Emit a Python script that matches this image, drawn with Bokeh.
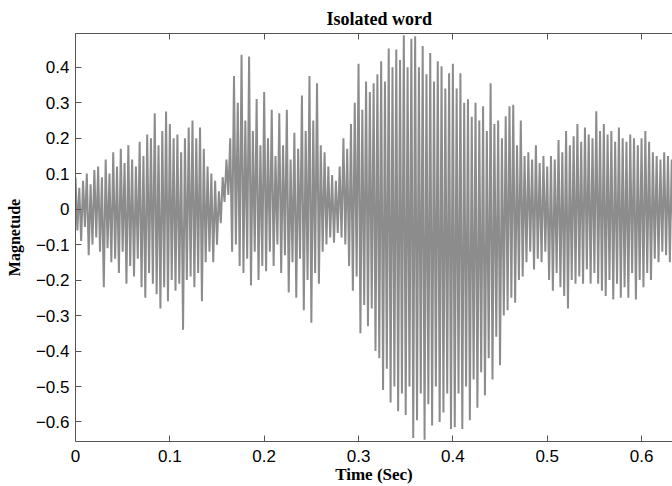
import numpy as np
from bokeh.plotting import figure
from bokeh.models import Range1d, LinearAxis, FixedTicker, CustomJSTickFormatter
from bokeh.embed import file_html
from bokeh.resources import INLINE

# ---- data (one oscillation every 4 ms: crest, then trough) ----
step = 0.004
peaks = [
    0.09, 0.06, 0.08, 0.10, 0.07, 0.11, 0.12, 0.09, 0.14, 0.10,
    0.16, 0.12, 0.17, 0.13, 0.18, 0.14, 0.12, 0.19, 0.15, 0.21,
    0.20, 0.27, 0.18, 0.22, 0.275, 0.24, 0.20, 0.21, 0.16, 0.20,
    0.23, 0.25, 0.20, 0.23, 0.17, 0.12, 0.10, 0.08, 0.05, 0.09,
    0.14, 0.20, 0.375, 0.30, 0.435, 0.25, 0.43, 0.22, 0.31, 0.18,
    0.33, 0.20, 0.28, 0.15, 0.27, 0.18, 0.28, 0.14, 0.215, 0.17,
    0.32, 0.22, 0.375, 0.25, 0.355, 0.18, 0.16, 0.12, 0.096, 0.08,
    0.12, 0.20, 0.17, 0.24, 0.30, 0.41, 0.28, 0.36, 0.33, 0.355,
    0.38, 0.417, 0.36, 0.453, 0.40, 0.45, 0.42, 0.49, 0.40, 0.48,
    0.487, 0.40, 0.46, 0.38, 0.44, 0.36, 0.417, 0.403, 0.34, 0.383,
    0.41, 0.34, 0.383, 0.30, 0.31, 0.26, 0.30, 0.25, 0.29, 0.22,
    0.355, 0.24, 0.25, 0.20, 0.262, 0.29, 0.294, 0.18, 0.25, 0.15,
    0.16, 0.14, 0.18, 0.13, 0.15, 0.12, 0.15, 0.14, 0.195, 0.16,
    0.22, 0.18, 0.205, 0.24, 0.19, 0.23, 0.21, 0.20, 0.276, 0.22,
    0.24, 0.21, 0.22, 0.19, 0.23, 0.20, 0.19, 0.21, 0.20, 0.18,
    0.20, 0.22, 0.19, 0.16, 0.15, 0.14, 0.16, 0.15, 0.14, 0.15,
]
troughs = [
    -0.06, -0.09, -0.05, -0.13, -0.10, -0.08, -0.12, -0.22, -0.11, -0.15,
    -0.14, -0.18, -0.12, -0.21, -0.16, -0.19, -0.14, -0.22, -0.25, -0.18,
    -0.21, -0.24, -0.28, -0.22, -0.26, -0.20, -0.23, -0.21, -0.34, -0.20,
    -0.19, -0.22, -0.18, -0.26, -0.15, -0.12, -0.15, -0.10, -0.04, 0.02,
    0.04, -0.12, -0.10, -0.16, -0.18, -0.14, -0.215, -0.12, -0.20, -0.16,
    -0.175, -0.12, -0.16, -0.10, -0.18, -0.13, -0.235, -0.15, -0.25, -0.14,
    -0.285, -0.20, -0.32, -0.18, -0.21, -0.12, -0.10, -0.08, -0.095, -0.067,
    -0.08, -0.10, -0.16, -0.23, -0.19, -0.35, -0.27, -0.33, -0.28, -0.40,
    -0.42, -0.51, -0.45, -0.545, -0.50, -0.57, -0.52, -0.58, -0.50, -0.645,
    -0.595, -0.52, -0.65, -0.55, -0.61, -0.50, -0.60, -0.573, -0.52, -0.62,
    -0.615, -0.52, -0.62, -0.50, -0.595, -0.48, -0.56, -0.46, -0.525, -0.42,
    -0.48, -0.36, -0.44, -0.30, -0.285, -0.25, -0.264, -0.20, -0.19, -0.15,
    -0.12, -0.17, -0.14, -0.15, -0.12, -0.20, -0.23, -0.18, -0.22, -0.245,
    -0.28, -0.20, -0.21, -0.19, -0.21, -0.17, -0.21, -0.18, -0.21, -0.23,
    -0.245, -0.20, -0.255, -0.21, -0.25, -0.22, -0.25, -0.18, -0.255, -0.20,
    -0.22, -0.18, -0.20, -0.14, -0.15, -0.12, -0.13, -0.15, -0.12, -0.14,
]
x_ticks = [0.0, 0.1, 0.2, 0.3, 0.4, 0.5, 0.6]
y_ticks = [-0.6, -0.5, -0.4, -0.3, -0.2, -0.1, 0.0, 0.1, 0.2, 0.3, 0.4]
title_text = "Isolated word"
x_label = "Time (Sec)"
y_label = "Magnetude"

n = len(peaks)
t = np.arange(n) * step
xs = np.empty(2 * n)
ys = np.empty(2 * n)
xs[0::2] = t
xs[1::2] = t + step / 2
ys[0::2] = peaks
ys[1::2] = troughs

AX = "#555555"
fmt = CustomJSTickFormatter(code="""
if (Math.abs(tick) < 1e-9) { return '0'; }
return tick.toFixed(1).replace('-', '\\u2212');
""")
blank = CustomJSTickFormatter(code="return '';")

p = figure(width=672, height=486, output_backend="svg", toolbar_location=None,
           x_range=Range1d(0, 0.6328), y_range=Range1d(-0.655, 0.495),
           min_border_left=75, min_border_right=0, min_border_top=33,
           min_border_bottom=44, title=title_text)
p.outline_line_color = None
p.grid.visible = False
p.background_fill_color = "white"
p.border_fill_color = "white"

p.title.text_font = "Liberation Serif"
p.title.text_font_style = "bold"
p.title.text_font_size = "18px"
p.title.align = "left"
p.title.offset = 251
p.title.text_color = "black"

p.line(xs, ys, line_color="#8c8c8c", line_width=2.0)

def style(ax, ticks, label_size="17px"):
    ax.ticker = FixedTicker(ticks=ticks)
    ax.formatter = fmt
    ax.major_tick_in = 6
    ax.major_tick_out = 0
    ax.minor_tick_line_color = None
    ax.axis_line_color = AX
    ax.major_tick_line_color = AX
    ax.major_label_text_font = "Liberation Sans"
    ax.major_label_text_font_size = label_size
    ax.major_label_text_color = "black"
    ax.axis_label_text_font = "Liberation Serif"
    ax.axis_label_text_font_style = "bold"
    ax.axis_label_text_color = "black"

xa = p.xaxis[0]
style(xa, x_ticks)
xa.axis_label = x_label
xa.axis_label_text_font_size = "17px"
xa.major_label_standoff = 8
xa.axis_label_standoff = 0

ya = p.yaxis[0]
style(ya, y_ticks)
ya.axis_label = y_label
ya.axis_label_text_font_size = "16px"
ya.major_label_standoff = 6
ya.axis_label_standoff = 10

top = LinearAxis(ticker=FixedTicker(ticks=x_ticks), formatter=blank)
top.major_tick_in = 6
top.major_tick_out = 0
top.minor_tick_line_color = None
top.axis_line_color = AX
top.major_tick_line_color = AX
top.major_label_text_font_size = "1px"
top.major_label_standoff = 0
p.add_layout(top, "above")

open("out.html", "w").write(file_html(p, INLINE))
